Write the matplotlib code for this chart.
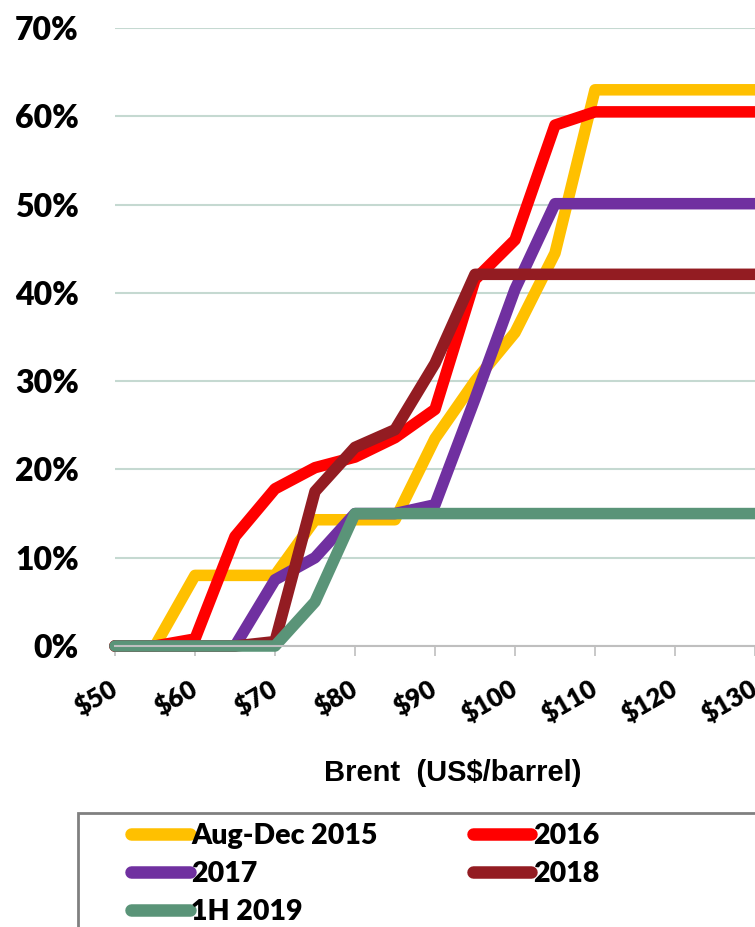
import matplotlib
matplotlib.use("Agg")
import matplotlib.pyplot as plt
from matplotlib.patches import Rectangle

# Brent price points (US$/barrel), every $5
brent = [50, 55, 60, 65, 70, 75, 80, 85, 90, 95, 100, 105, 110, 115, 120, 125, 130]

# share of output (%) for each period
aug_dec_2015 = [0, 0, 8, 8, 8, 14.3, 14.3, 14.3, 23.5, 30, 35.5, 44.5, 63, 63, 63, 63, 63]
y2016 = [0, 0, 0.8, 12.4, 17.8, 20.2, 21.4, 23.6, 26.8, 41.5, 46, 59, 60.5, 60.5, 60.5, 60.5, 60.5]
y2017 = [0, 0, 0, 0, 7.5, 10, 15, 15, 16, 28, 40.4, 50.1, 50.1, 50.1, 50.1, 50.1, 50.1]
y2018 = [0, 0, 0, 0, 0.5, 17.5, 22.5, 24.5, 32, 42.1, 42.1, 42.1, 42.1, 42.1, 42.1, 42.1, 42.1]
h1_2019 = [0, 0, 0, 0, 0, 5, 15, 15, 15, 15, 15, 15, 15, 15, 15, 15, 15]

names = ["Aug-Dec 2015", "2016", "2017", "2018", "1H 2019"]
colors = ["#FFC000", "#FF0000", "#7030A0", "#931C22", "#5A9478"]
series = [aug_dec_2015, y2016, y2017, y2018, h1_2019]

x_ticks = [50, 60, 70, 80, 90, 100, 110, 120, 130]
x_labels = ["$50", "$60", "$70", "$80", "$90", "$100", "$110", "$120", "$130"]
y_ticks = [0, 10, 20, 30, 40, 50, 60, 70]
y_labels = ["0%", "10%", "20%", "30%", "40%", "50%", "60%", "70%"]

W, H = 755, 927
fig = plt.figure(figsize=(W / 100, H / 100), dpi=100)
ax = fig.add_axes([115 / W, 1 - 646 / H, 640 / W, (646 - 28) / H])

lines = []
for vals, c, n in zip(series, colors, names):
    ln, = ax.plot(brent, vals, color=c, lw=8.3, label=n,
                  solid_capstyle="round", solid_joinstyle="round", clip_on=False)
    lines.append(ln)

ax.set_xlim(50, 130)
ax.set_ylim(0, 70)
ax.set_yticks(y_ticks)
ax.set_yticklabels(y_labels, fontfamily="Lato", fontweight="heavy", fontsize=23)
ax.set_xticks(x_ticks)
ax.set_xticklabels(x_labels, fontfamily="Lato", fontweight="heavy", fontsize=18.5,
                   rotation=30, ha="right", va="center", rotation_mode="anchor")
ax.tick_params(axis="y", length=0, pad=26)
ax.tick_params(axis="x", length=7, width=1.2, color="#BFBFBF", pad=22)

ax.grid(axis="y", color="#C5D9D1", lw=1.5)
ax.set_axisbelow(True)
for s in ["top", "right", "left"]:
    ax.spines[s].set_visible(False)
ax.spines["bottom"].set_color("#BFBFBF")
ax.spines["bottom"].set_linewidth(1.5)

ax.set_xlabel("Brent  (US$/barrel)", fontfamily="Liberation Sans", fontweight="bold",
              fontsize=21)
ax.xaxis.set_label_coords((453 - 115) / 640, -(773 - 646) / 618)
ax.xaxis.label.set_va("center")

# legend box runs off the bottom and right edge
fig.patches.append(Rectangle((78 / W, -0.05), 0.95, 1 - 813 / H + 0.05,
                             transform=fig.transFigure, fill=False,
                             edgecolor="#808080", lw=2))
# matplotlib fills legend columns first, so reorder to read row by row
order = [lines[0], lines[2], lines[4], lines[1], lines[3]]
leg = fig.legend(order, [l.get_label() for l in order], ncol=2,
                 loc="upper left", bbox_to_anchor=(110 / W, 1 - 802 / H),
                 frameon=False, handlelength=2.05, handletextpad=0.05,
                 columnspacing=3.35, labelspacing=0.42, borderpad=0.25,
                 prop={"family": "Lato", "weight": "heavy", "size": 20.5})
for h in leg.legend_handles:
    h.set_linewidth(9)

fig.savefig("out.png", dpi=100)
